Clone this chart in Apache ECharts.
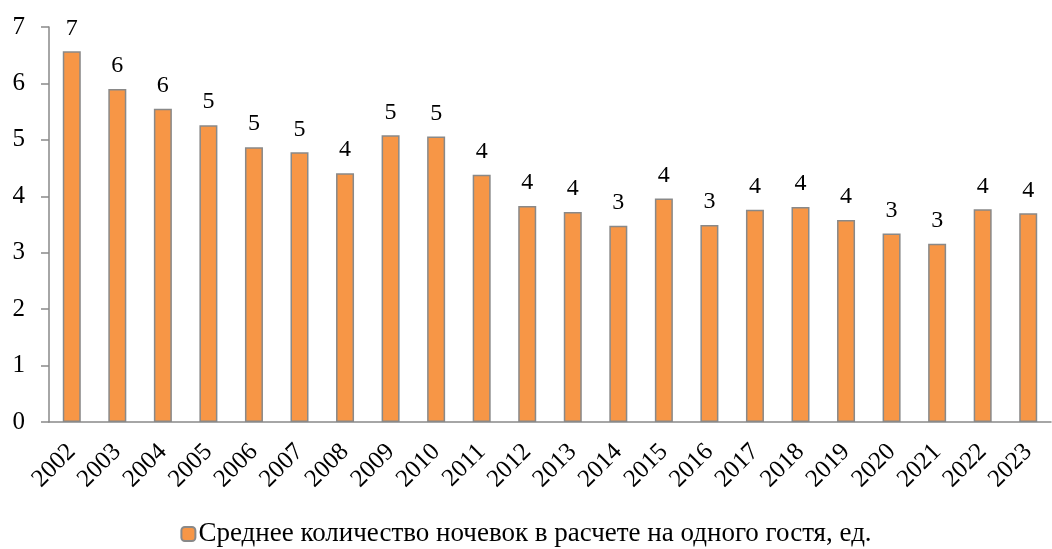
<!DOCTYPE html>
<html>
<head>
<meta charset="utf-8">
<script src="https://cdn.jsdelivr.net/npm/echarts@6/dist/echarts.min.js"></script>
<style>
html, body { margin: 0; padding: 0; background: #fff; }
#chart { width: 1052px; height: 549px; }
</style>
</head>
<body>
<div id="chart"></div>
<script>
// годы
var years = ['2002','2003','2004','2005','2006','2007','2008','2009','2010','2011','2012',
             '2013','2014','2015','2016','2017','2018','2019','2020','2021','2022','2023'];
// среднее количество ночевок
var nights = [6.57, 5.90, 5.55, 5.26, 4.87, 4.78, 4.41, 5.08, 5.06, 4.38, 3.83,
              3.72, 3.48, 3.96, 3.49, 3.76, 3.81, 3.58, 3.34, 3.16, 3.77, 3.70];
var seriesName = 'Среднее количество ночевок в расчете на одного гостя, ед.';
var yTicks = [0, 7, 1]; // min, max, шаг

var font = '"Liberation Serif", "DejaVu Serif", serif';
var chart = echarts.init(document.getElementById('chart'));

chart.setOption({
    animation: false,
    grid: { left: 49, right: 1, top: 27, bottom: 127, containLabel: false },
    legend: {
        top: 514,
        left: 'center',
        itemWidth: 14,
        itemHeight: 14,
        itemGap: 4,
        textStyle: { fontFamily: font, fontSize: 27, lineHeight: 30, color: '#000', padding: [0, 0, 0, -2] },
        data: [seriesName]
    },
    xAxis: {
        type: 'category',
        data: years,
        axisLine: { lineStyle: { color: '#898989', width: 1.5 } },
        axisTick: { length: 6, lineStyle: { color: '#898989', width: 1.5 } },
        axisLabel: { rotate: 45, interval: 0, hideOverlap: false, fontFamily: font, fontSize: 25, color: '#000', margin: 26 }
    },
    yAxis: {
        type: 'value',
        min: yTicks[0],
        max: yTicks[1],
        interval: yTicks[2],
        splitLine: { show: false },
        axisLine: { show: true, lineStyle: { color: '#898989', width: 1.5 } },
        axisTick: { show: true, length: 8, lineStyle: { color: '#898989', width: 1.5 } },
        axisLabel: { fontFamily: font, fontSize: 25, color: '#000', margin: 24 }
    },
    series: [{
        name: seriesName,
        type: 'bar',
        data: nights,
        barWidth: 18,
        itemStyle: { color: '#F79646', borderColor: '#898989', borderWidth: 1.5 },
        label: {
            show: true,
            position: 'top',
            distance: 11,
            fontFamily: font,
            fontSize: 24,
            color: '#000',
            formatter: function (p) { return Math.round(p.value); }
        }
    }]
});
</script>
</body>
</html>
